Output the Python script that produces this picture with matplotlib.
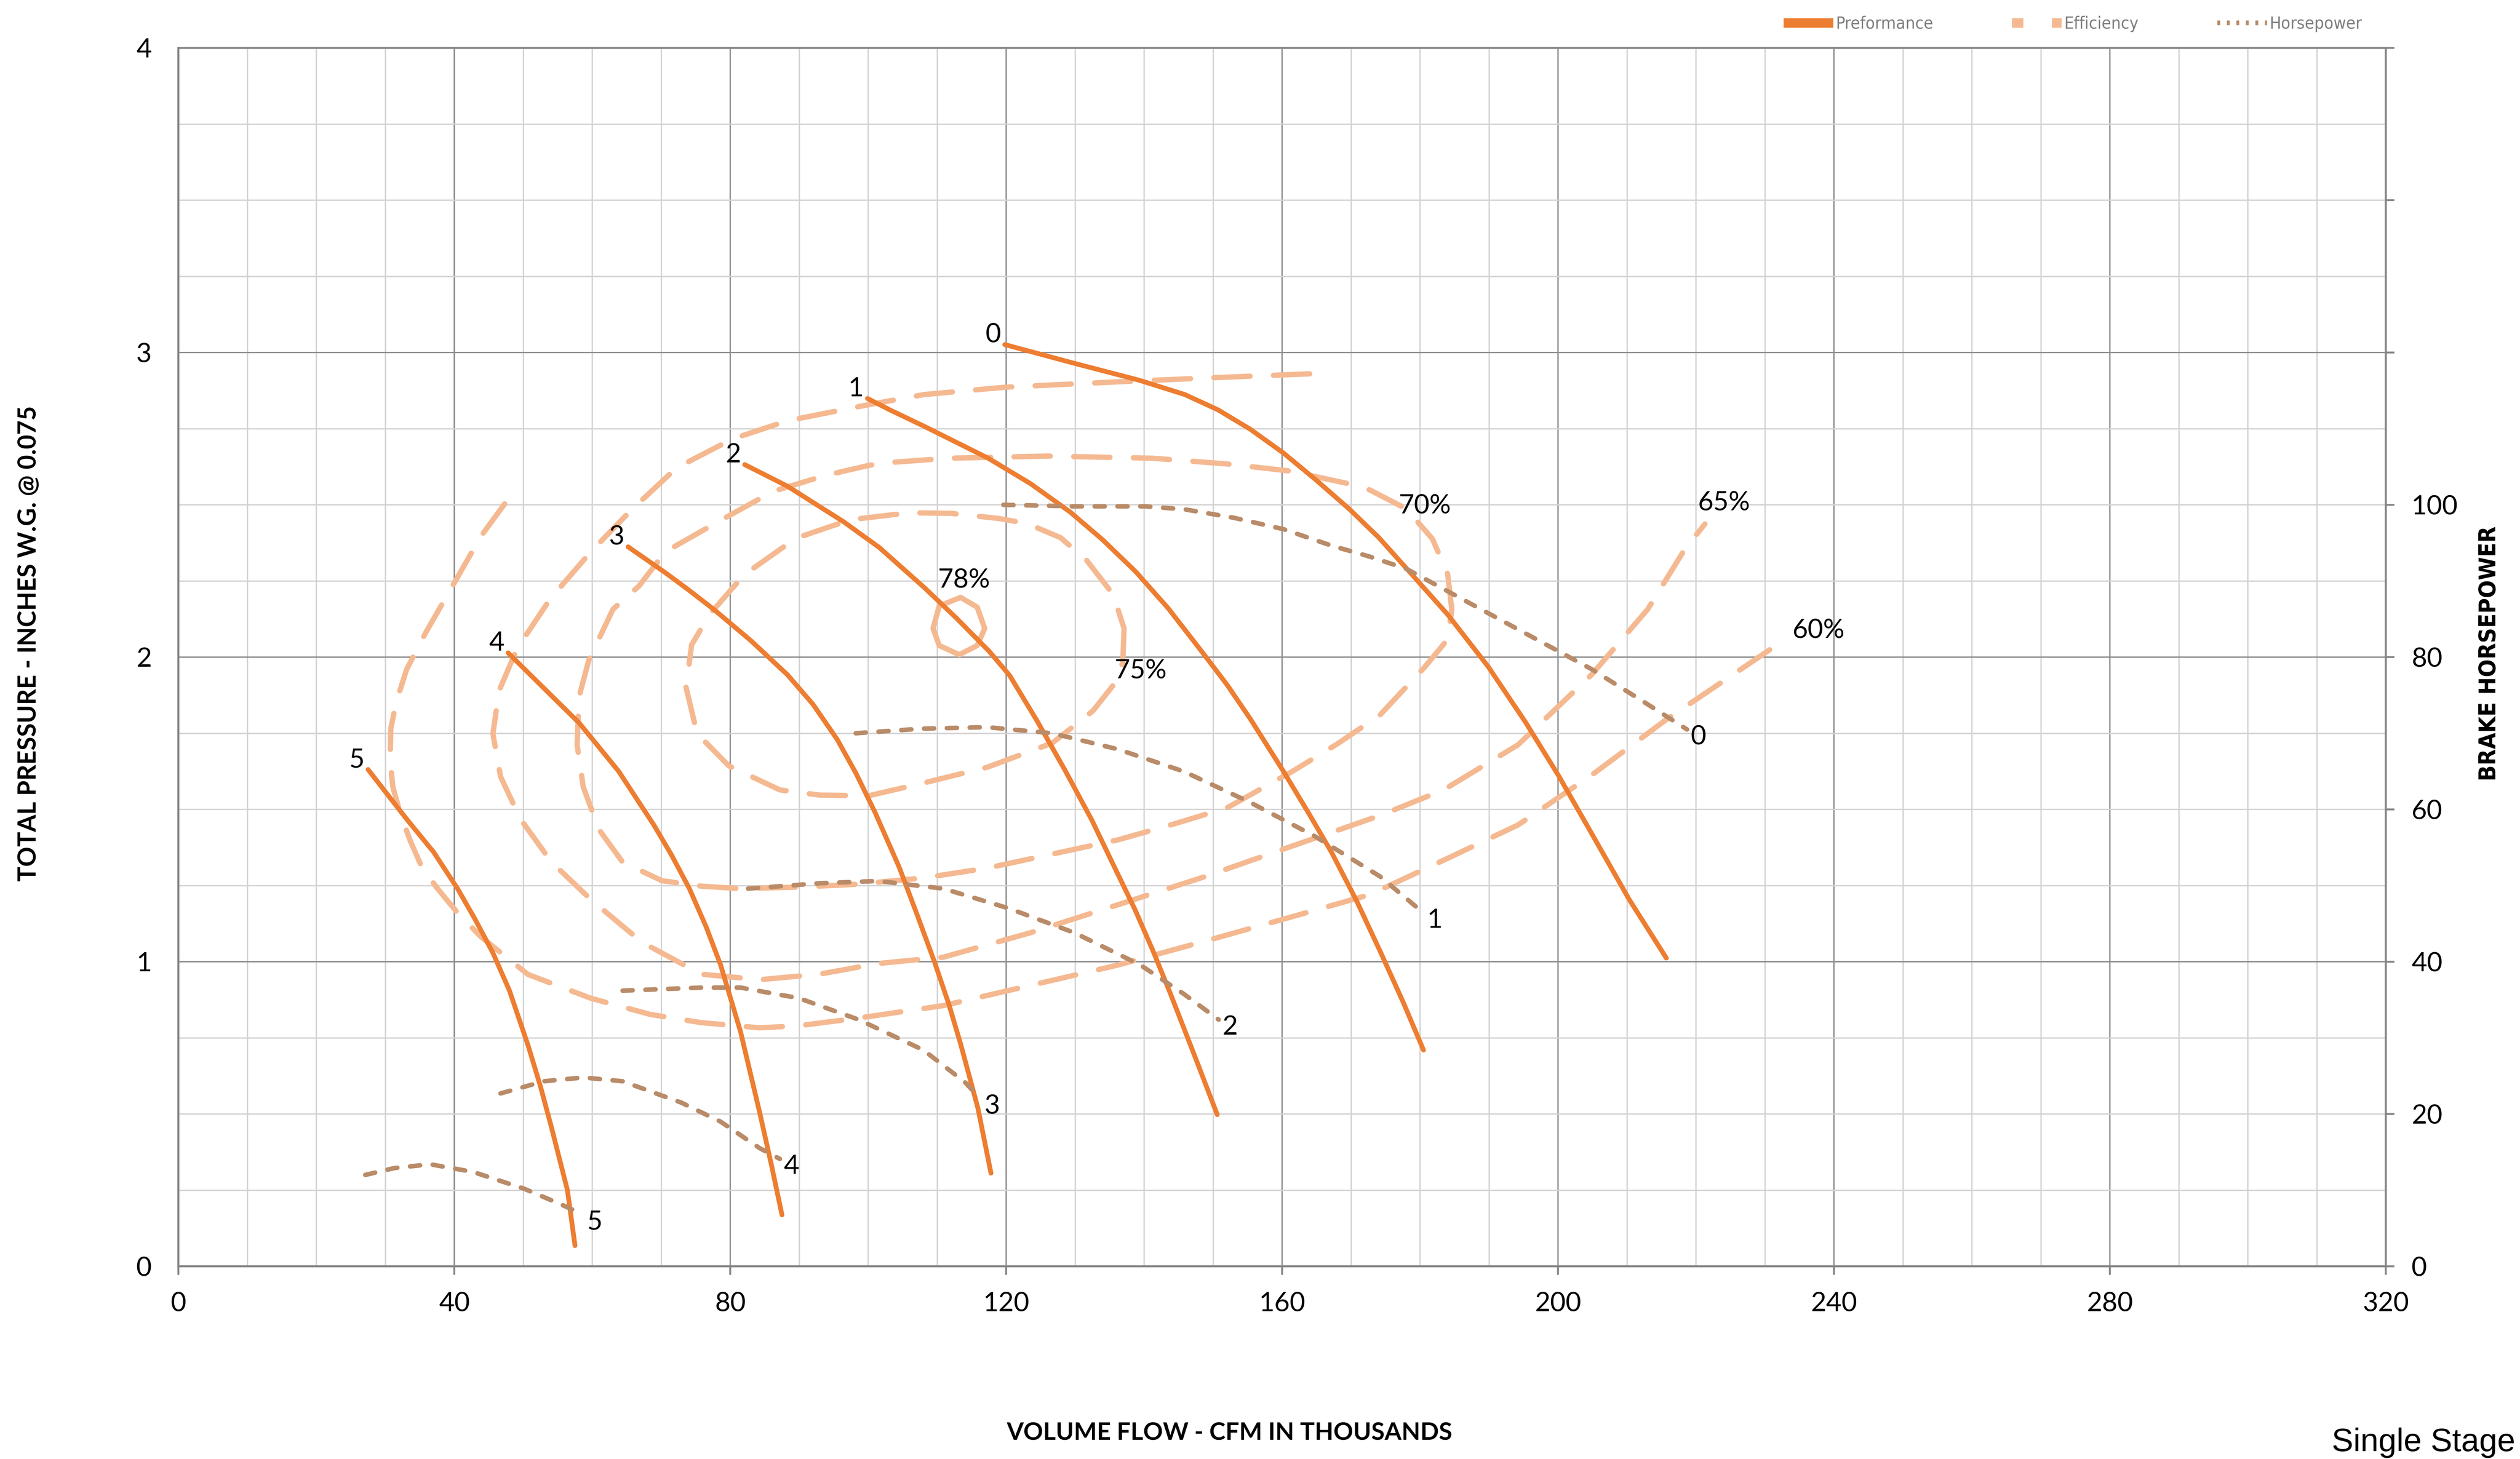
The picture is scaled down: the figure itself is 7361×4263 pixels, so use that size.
import matplotlib.pyplot as plt
from matplotlib.lines import Line2D

# Fan curves - volume flow in thousands of CFM, pressure in inches W.G.
perf0_x = [119.8, 129.8, 139.3, 145.9, 150.7, 155.4, 160.2, 164.9, 169.7, 174.0, 178.0, 184.0, 189.9, 195.3, 200.1, 204.9, 210.3, 215.7]
perf0_y = [3.026, 2.965, 2.909, 2.862, 2.812, 2.748, 2.670, 2.582, 2.487, 2.393, 2.292, 2.140, 1.968, 1.786, 1.610, 1.420, 1.205, 1.012]
perf1_x = [99.9, 103.2, 108.1, 117.4, 123.5, 129.3, 134.0, 138.8, 143.5, 148.3, 152.0, 155.4, 160.2, 164.0, 167.2, 170.8, 174.2, 177.5, 180.5]
perf1_y = [2.849, 2.811, 2.758, 2.653, 2.570, 2.476, 2.385, 2.280, 2.160, 2.020, 1.910, 1.797, 1.625, 1.482, 1.358, 1.200, 1.035, 0.870, 0.710]
perf2_x = [82.1, 88.3, 92.9, 96.4, 101.6, 108.1, 112.7, 117.5, 120.5, 124.5, 128.5, 132.4, 135.5, 138.7, 141.3, 143.8, 147.6, 150.6]
perf2_y = [2.632, 2.561, 2.495, 2.445, 2.360, 2.229, 2.130, 2.020, 1.940, 1.790, 1.630, 1.466, 1.320, 1.170, 1.035, 0.896, 0.675, 0.498]
perf3_x = [65.2, 70.6, 74.0, 77.6, 83.0, 88.3, 92.0, 95.5, 98.2, 101.0, 104.5, 107.0, 109.6, 111.7, 113.4, 115.9, 117.8]
perf3_y = [2.362, 2.277, 2.220, 2.157, 2.054, 1.942, 1.845, 1.730, 1.620, 1.490, 1.310, 1.160, 1.000, 0.860, 0.730, 0.520, 0.306]
perf4_x = [47.8, 52.0, 58.1, 63.8, 68.9, 71.5, 74.1, 76.5, 78.6, 81.5, 84.3, 86.0, 87.5]
perf4_y = [2.014, 1.920, 1.784, 1.626, 1.450, 1.350, 1.239, 1.115, 0.990, 0.770, 0.502, 0.330, 0.169]
perf5_x = [27.5, 33.1, 37.0, 40.5, 43.0, 45.6, 48.0, 50.7, 52.5, 54.1, 56.4, 57.5]
perf5_y = [1.631, 1.468, 1.360, 1.239, 1.140, 1.029, 0.905, 0.725, 0.590, 0.455, 0.250, 0.068]

eff60_x = [47.3, 43.9, 39.9, 35.9, 33.1, 31.6, 30.8, 30.7, 31.1, 32.2, 33.6, 35.3, 37.6, 40.5, 43.9, 50.7, 59.8, 68.4, 75.8, 84.3, 90.0, 98.6, 110.9, 123.5, 136.2, 148.9, 161.5, 172.7, 183.4, 194.2, 204.9, 215.7, 226.5, 232.9]
eff60_y = [2.503, 2.398, 2.240, 2.082, 1.960, 1.854, 1.766, 1.661, 1.573, 1.485, 1.398, 1.310, 1.239, 1.160, 1.081, 0.958, 0.880, 0.827, 0.800, 0.783, 0.790, 0.815, 0.856, 0.922, 0.989, 1.068, 1.148, 1.220, 1.333, 1.449, 1.613, 1.795, 1.960, 2.058]
eff65_x = [164.0, 150.7, 136.4, 119.8, 108.1, 99.9, 88.3, 80.3, 72.2, 65.7, 59.8, 53.9, 49.1, 46.5, 45.6, 46.7, 49.6, 54.1, 59.8, 67.2, 75.8, 84.3, 92.9, 101.4, 110.9, 123.5, 136.2, 148.9, 161.5, 174.2, 183.4, 194.2, 204.9, 213.0, 218.4, 221.3]
eff65_y = [2.930, 2.918, 2.904, 2.886, 2.862, 2.828, 2.776, 2.716, 2.621, 2.484, 2.346, 2.191, 2.028, 1.890, 1.748, 1.608, 1.468, 1.327, 1.204, 1.064, 0.959, 0.941, 0.959, 0.994, 1.015, 1.095, 1.187, 1.280, 1.380, 1.480, 1.564, 1.712, 1.943, 2.157, 2.355, 2.437]
eff70_x = [184.6, 184.0, 181.8, 178.0, 172.7, 169.7, 161.1, 152.1, 141.2, 126.0, 111.7, 103.2, 100.2, 93.7, 86.2, 78.6, 70.6, 66.8, 63.0, 59.5, 58.1, 57.8, 58.7, 61.0, 64.4, 70.1, 75.8, 81.5, 90.0, 98.2, 108.0, 117.2, 126.0, 136.2, 144.0, 152.0, 161.5, 168.0, 174.2, 180.7, 184.0, 184.6]
eff70_y = [2.157, 2.273, 2.388, 2.487, 2.549, 2.569, 2.611, 2.634, 2.653, 2.660, 2.653, 2.639, 2.630, 2.596, 2.544, 2.449, 2.346, 2.234, 2.157, 1.990, 1.871, 1.713, 1.573, 1.433, 1.327, 1.266, 1.248, 1.240, 1.245, 1.254, 1.275, 1.307, 1.350, 1.400, 1.450, 1.505, 1.625, 1.715, 1.810, 1.968, 2.058, 2.157]
eff75_x = [137.1, 136.9, 135.5, 132.6, 126.7, 117.2, 107.7, 100.1, 93.0, 87.2, 79.8, 75.2, 73.6, 74.4, 77.0, 82.0, 89.5, 97.4, 106.0, 112.0, 119.0, 123.1, 127.9, 131.7, 135.5, 137.1]
eff75_y = [2.094, 1.982, 1.907, 1.824, 1.718, 1.638, 1.585, 1.545, 1.547, 1.564, 1.643, 1.749, 1.900, 2.040, 2.140, 2.270, 2.390, 2.451, 2.474, 2.472, 2.455, 2.438, 2.392, 2.317, 2.206, 2.094]
eff78_x = [113.4, 115.8, 116.9, 115.8, 113.2, 110.3, 109.4, 110.3, 113.4]
eff78_y = [2.196, 2.164, 2.094, 2.038, 2.008, 2.038, 2.094, 2.168, 2.196]

# brake horsepower curves (right axis)
hp0_x = [119.6, 129.8, 140.2, 145.9, 153.0, 160.2, 167.3, 172.7, 178.0, 188.8, 199.6, 204.9, 213.0, 218.7]
hp0_y = [100.0, 99.8, 99.8, 99.4, 98.3, 96.8, 94.6, 93.2, 91.6, 86.3, 81.0, 78.4, 73.8, 70.5]
hp1_x = [98.2, 107.7, 117.2, 126.7, 136.2, 145.7, 155.2, 164.7, 174.2, 180.5]
hp1_y = [70.0, 70.6, 70.8, 70.0, 67.9, 65.0, 61.0, 56.5, 51.2, 46.4]
hp2_x = [82.6, 92.9, 101.4, 110.9, 120.4, 129.9, 139.4, 145.7, 150.8]
hp2_y = [49.6, 50.3, 50.6, 49.6, 47.0, 43.8, 39.6, 35.8, 32.4]
hp3_x = [64.4, 75.8, 81.5, 90.0, 98.6, 108.0, 114.0, 116.3]
hp3_y = [36.2, 36.6, 36.6, 35.2, 32.4, 28.4, 24.2, 22.0]
hp4_x = [46.7, 53.0, 58.7, 64.4, 72.9, 78.6, 84.3, 87.2]
hp4_y = [22.7, 24.3, 24.8, 24.3, 21.5, 19.0, 15.5, 14.1]
hp5_x = [27.1, 31.3, 36.5, 42.7, 50.1, 55.3, 58.7]
hp5_y = [12.0, 12.9, 13.4, 12.4, 10.2, 8.2, 6.8]

curve_names = ['0', '1', '2', '3', '4', '5']
perf_x = [perf0_x, perf1_x, perf2_x, perf3_x, perf4_x, perf5_x]
perf_y = [perf0_y, perf1_y, perf2_y, perf3_y, perf4_y, perf5_y]
hp_x = [hp0_x, hp1_x, hp2_x, hp3_x, hp4_x, hp5_x]
hp_y = [hp0_y, hp1_y, hp2_y, hp3_y, hp4_y, hp5_y]

PERF_COLOR = '#ED7D31'
EFF_COLOR = '#F5B991'
HP_COLOR = '#B98B68'
GRID_MINOR = '#D3D3D3'
GRID_MAJOR = '#8C8C8C'
SPINE = '#868686'
TICK_FONT = 'Lato'
NARROW = dict(family='DejaVu Sans', stretch='condensed')

fig = plt.figure(figsize=(7361 / 400, 4263 / 400), dpi=400)
ax = fig.add_axes([521 / 7361, 1 - 3700 / 4263, 6448 / 7361, 3560 / 4263])
ax2 = ax.twinx()

ax.set_xlim(0, 320)
ax.set_ylim(0, 4)
ax2.set_ylim(0, 160)

# grid
ax.set_xticks(range(0, 321, 40))
ax.set_xticks(range(0, 321, 10), minor=True)
ax.set_yticks([0, 1, 2, 3, 4])
ax.set_yticks([i * 0.25 for i in range(17)], minor=True)
ax.grid(which='minor', color=GRID_MINOR, lw=0.7)
ax.grid(which='major', color=GRID_MAJOR, lw=0.7)
ax.set_axisbelow(True)
for a in (ax, ax2):
    for s in a.spines.values():
        s.set_color(SPINE)
        s.set_linewidth(1.0)

ax.tick_params(axis='x', which='major', direction='out', length=4.5, width=1.0,
               color=SPINE, pad=9, labelsize=14)
ax.tick_params(axis='y', which='major', length=0, pad=14, labelsize=14)
ax.tick_params(which='minor', length=0)
ax2.set_yticks(range(0, 161, 20))
ax2.set_yticklabels([str(v) if v <= 100 else '' for v in range(0, 161, 20)])
ax2.tick_params(axis='y', direction='out', length=4.5, width=1.0, color=SPINE,
                pad=9, labelsize=14)
for lab in ax.get_xticklabels() + ax.get_yticklabels() + ax2.get_yticklabels():
    lab.set_fontfamily(TICK_FONT)

# efficiency contours
eff_style = dict(color=EFF_COLOR, lw=2.8, dashes=(6.8, 4.4), dash_capstyle='round', zorder=2)
for ex, ey in [(eff60_x, eff60_y), (eff65_x, eff65_y), (eff70_x, eff70_y), (eff75_x, eff75_y)]:
    ax.plot(ex, ey, **eff_style)
ax.plot(eff78_x, eff78_y, color=EFF_COLOR, lw=2.8, solid_capstyle='round', zorder=2)

# performance curves with their labels
for name, px, py in zip(curve_names, perf_x, perf_y):
    ax.plot(px, py, color=PERF_COLOR, lw=2.5, solid_capstyle='round',
            solid_joinstyle='round', zorder=3)
    ax.annotate(name, (px[0], py[0]), xytext=(-6, 5), textcoords='offset points',
                ha='center', va='center', fontsize=14, family=TICK_FONT)

# horsepower curves with their labels
for name, hx, hy in zip(curve_names, hp_x, hp_y):
    ax2.plot(hx, hy, color=HP_COLOR, lw=2.4, dashes=(2.2, 2.8), dash_capstyle='round', zorder=3)
    ax2.annotate(name, (hx[-1], hy[-1]), xytext=(6, -4), textcoords='offset points',
                 ha='center', va='center', fontsize=14, family=TICK_FONT)

# efficiency labels
ax.annotate('60%', (eff60_x[-1], eff60_y[-1]), xytext=(4, 4.5), textcoords='offset points',
            ha='left', va='center', fontsize=14, family=TICK_FONT)
ax.annotate('65%', (eff65_x[-1], eff65_y[-1]), xytext=(-3.6, 11), textcoords='offset points',
            ha='left', va='center', fontsize=14, family=TICK_FONT)
ax.text(180.7, 2.495, '70%', ha='center', va='center', fontsize=14, family=TICK_FONT)
ax.text(139.5, 1.954, '75%', ha='center', va='center', fontsize=14, family=TICK_FONT)
ax.text(113.9, 2.252, '78%', ha='center', va='center', fontsize=14, family=TICK_FONT)

# axis titles
fig.text(85 / 7361, 1 - 1880 / 4263, 'TOTAL PRESSURE - INCHES W.G. @ 0.075', rotation=90,
         ha='center', va='center', fontsize=13, fontweight='bold', family=TICK_FONT)
fig.text(3591 / 7361, 1 - 4187 / 4263, 'VOLUME FLOW - CFM IN THOUSANDS',
         ha='center', va='center', fontsize=12.8, fontweight='bold', family=TICK_FONT)
fig.text(7271 / 7361, 1 - 1910 / 4263, 'BRAKE HORSEPOWER', rotation=90,
         ha='center', va='center', fontsize=12.3, fontweight='bold', **NARROW)
fig.text(7347 / 7361, 1 - 4215 / 4263, 'Single Stage', ha='right', va='center',
         fontsize=17, family='Liberation Sans')

# legend
handles = [
    Line2D([], [], color=PERF_COLOR, lw=5, solid_capstyle='butt'),
    Line2D([], [], color=EFF_COLOR, lw=5, dashes=(1.2, 3.0)),
    Line2D([], [], color=HP_COLOR, lw=2.5, dashes=(0.6, 1.4)),
]
fig.legend(handles, ['Preformance', 'Efficiency', 'Horsepower'], loc='center right',
           bbox_to_anchor=(6900 / 7361, 1 - 70 / 4263), ncol=3, frameon=False,
           borderpad=0, borderaxespad=0,
           handlelength=2.9, handletextpad=0.15, columnspacing=4.6,
           prop=dict(size=9, **NARROW), labelcolor='#7F7F7F')

fig.savefig('out.png', dpi=400)
